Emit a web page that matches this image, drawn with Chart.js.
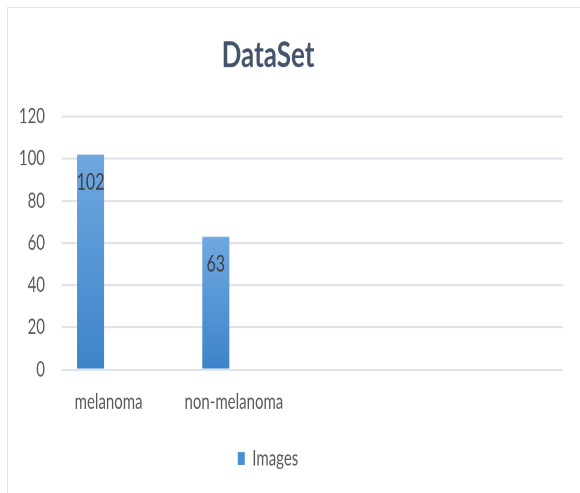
<!DOCTYPE html>
<html>
<head>
<meta charset="utf-8">
<script src="https://cdn.jsdelivr.net/npm/chart.js@4/dist/chart.umd.min.js"></script>
<style>
    html, body { margin: 0; padding: 0; background: #fff; overflow: hidden; width: 580px; height: 493px; }
    #marco {
        position: absolute; left: 7px; top: 7px; width: 600px; height: 520px;
        border-left: 1px solid #dfe3e9; border-top: 1px solid #dfe3e9;
    }
    /* el gráfico se dibuja más bajo y se estira en vertical (letra estrecha) */
    #estirado {
        position: absolute; left: -27px; top: 0; width: 607px; height: 352px;
        transform: scale(1, 1.4); transform-origin: 0 0;
    }
</style>
</head>
<body>
<div id="marco"></div>
<div id="estirado"><canvas id="grafico-dataset"></canvas></div>
<script>
// Datos del gráfico
const categorias = ['melanoma', 'non-melanoma', '', ''];
const imagenes = [102, 63, null, null];
const seriesVacias = [[], []];
const ticksY = [0, 20, 40, 60, 80, 100, 120];

const colorTexto = '#595959';
const fuente = 'Lato, "Open Sans", sans-serif';

// Degradado vertical por barra, de claro (arriba) a oscuro (abajo)
function degradadoBarra(context) {
    const chart = context.chart;
    const valor = context.parsed ? context.parsed.y : null;
    if (!chart.chartArea || !Number.isFinite(valor)) return '#4A8FD3';
    const y = chart.scales.y;
    const arriba = y.getPixelForValue(valor);
    const abajo = y.getPixelForValue(0);
    if (!Number.isFinite(arriba) || !Number.isFinite(abajo)) return '#4A8FD3';
    const g = chart.ctx.createLinearGradient(0, arriba, 0, abajo);
    g.addColorStop(0, '#6FA8E0');
    g.addColorStop(1, '#3D84CA');
    return g;
}

// Etiquetas de valor dentro de cada barra
const etiquetasValor = {
    id: 'etiquetasValor',
    afterDatasetsDraw(chart) {
        const ctx = chart.ctx;
        const meta = chart.getDatasetMeta(0);
        ctx.save();
        ctx.font = '16px ' + fuente;
        ctx.fillStyle = '#404040';
        ctx.textAlign = 'center';
        ctx.textBaseline = 'middle';
        meta.data.forEach((barra, i) => {
            const valor = imagenes[i];
            if (valor == null) return;
            ctx.fillText(String(valor), barra.x, barra.y + 20);
        });
        ctx.restore();
    }
};

const datasets = [{
    label: 'Images',
    data: imagenes,
    backgroundColor: degradadoBarra,
    borderWidth: 0
}];
seriesVacias.forEach(s => {
    datasets.push({ label: '', data: s, backgroundColor: '#4A8FD3' });
});

new Chart(document.getElementById('grafico-dataset'), {
    type: 'bar',
    data: {
        labels: categorias,
        datasets: datasets
    },
    options: {
        responsive: true,
        maintainAspectRatio: false,
        animation: false,
        devicePixelRatio: 2,
        categoryPercentage: 0.816,
        barPercentage: 0.794,
        layout: {
            padding: { left: 0, right: 17, top: 0, bottom: 7 }
        },
        plugins: {
            title: {
                display: true,
                text: 'DataSet',
                color: '#44546A',
                font: { family: fuente, size: 26, weight: 'bold' },
                padding: { top: 24, bottom: 28 }
            },
            legend: {
                position: 'bottom',
                labels: {
                    color: colorTexto,
                    font: { family: fuente, size: 15 },
                    boxWidth: 7,
                    boxHeight: 9,
                    padding: 10,
                    generateLabels: () => [{
                        text: 'Images',
                        fillStyle: '#4A8FD3',
                        strokeStyle: '#4A8FD3',
                        lineWidth: 0,
                        fontColor: colorTexto,
                        datasetIndex: 0
                    }]
                }
            },
            tooltip: { enabled: false }
        },
        scales: {
            x: {
                grid: { display: false, drawTicks: false },
                border: { display: false },
                ticks: {
                    color: colorTexto,
                    font: { family: fuente, size: 15 },
                    padding: 14,
                    labelOffset: -16,
                    maxRotation: 0,
                    autoSkip: false
                }
            },
            y: {
                min: ticksY[0],
                max: ticksY[ticksY.length - 1],
                afterBuildTicks: axis => {
                    axis.ticks = ticksY.map(v => ({ value: v }));
                },
                afterFit: axis => { axis.width = 89; },
                grid: { color: '#dde1e8', lineWidth: 1.4, drawTicks: false },
                border: { display: false },
                ticks: {
                    color: colorTexto,
                    font: { family: fuente, size: 15 },
                    padding: 17
                }
            }
        }
    },
    plugins: [etiquetasValor]
});
</script>
</body>
</html>
